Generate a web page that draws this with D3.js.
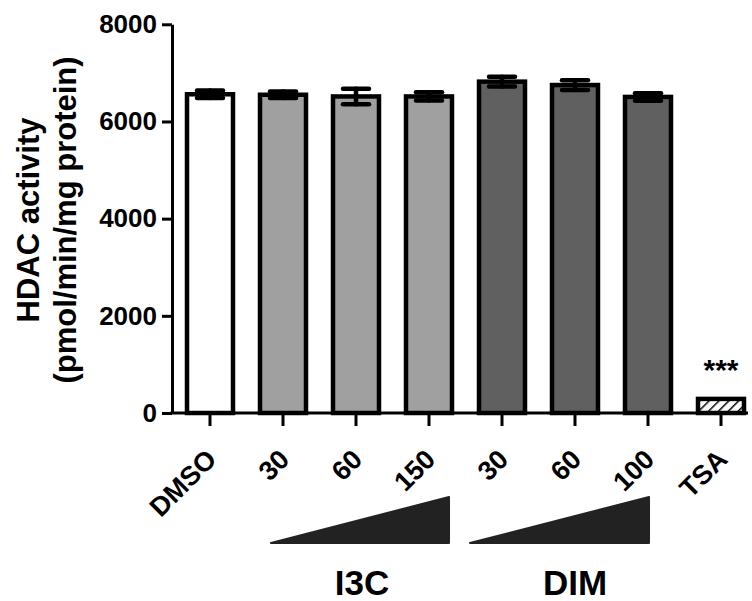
<!DOCTYPE html>
<html><head><meta charset="utf-8">
<script src="https://cdn.jsdelivr.net/npm/d3@7"></script>
<style>body{margin:0;background:#fff}svg{display:block}text{font-family:"Liberation Sans",Arial,sans-serif;font-weight:bold;fill:#000}</style>
</head><body>
<svg id="c" width="752" height="601"></svg>
<script>
const categories = ["DMSO","30","60","150","30","60","100","TSA"];
const groups = ["control","I3C","I3C","I3C","DIM","DIM","DIM","TSA"];
const means = [6560, 6550, 6515, 6515, 6820, 6750, 6505, 290];
const sems  = [75, 65, 160, 85, 100, 100, 77, 0];
const yTicks = [0, 2000, 4000, 6000, 8000];
const fills = {control:"#ffffff", I3C:"#a0a0a0", DIM:"#606060", TSA:"url(#hatch)"};

const svg = d3.select("#c");
const idx = d3.range(categories.length);
const x = d3.scaleBand().domain(idx).range([173.5, 757.5]).paddingInner(0.37).paddingOuter(0.185);
const y = d3.scaleLinear().domain([0, 8000]).range([413, 24.3]);
const xc = i => x(i) + x.bandwidth()/2;

const defs = svg.append("defs");
const pat = defs.append("pattern").attr("id","hatch").attr("patternUnits","userSpaceOnUse")
  .attr("width",7).attr("height",7).attr("patternTransform","rotate(45)");
pat.append("rect").attr("width",7).attr("height",7).attr("fill","#fff");
pat.append("line").attr("x1",0).attr("y1",0).attr("x2",0).attr("y2",7).attr("stroke","#000").attr("stroke-width",3);

// bars
svg.append("g").selectAll("rect").data(idx).join("rect")
  .attr("x", i => x(i)).attr("width", x.bandwidth())
  .attr("y", i => y(means[i])).attr("height", i => y(0) - y(means[i]))
  .attr("fill", i => fills[groups[i]]).attr("stroke","#000").attr("stroke-width",4.5);

// error bars
const eb = svg.append("g").attr("stroke","#000").attr("stroke-width",4.5).attr("stroke-linecap","round");
idx.filter(i => sems[i] > 0).forEach(i => {
  const c = xc(i), hw = 13;
  eb.append("line").attr("x1",c).attr("x2",c).attr("y1",y(means[i]+sems[i])).attr("y2",y(means[i]-sems[i]));
  eb.append("line").attr("x1",c-hw).attr("x2",c+hw).attr("y1",y(means[i]+sems[i])).attr("y2",y(means[i]+sems[i]));
  eb.append("line").attr("x1",c-hw).attr("x2",c+hw).attr("y1",y(means[i]-sems[i])).attr("y2",y(means[i]-sems[i]));
});

// y axis
const ya = svg.append("g").attr("transform","translate(172,0)")
  .call(d3.axisLeft(y).tickValues(yTicks).tickSize(10).tickSizeOuter(0).tickPadding(5).tickFormat(d3.format("d")));
ya.select(".domain").attr("stroke","#000").attr("stroke-width",3);
ya.selectAll(".tick line").attr("stroke","#000").attr("stroke-width",3);
ya.selectAll(".tick text").attr("font-size",26).attr("font-family",'"Liberation Sans",Arial').attr("font-weight","bold").attr("fill","#000");

// x axis
const xa = svg.append("g").attr("transform","translate(0,413)")
  .call(d3.axisBottom(x).tickSize(13).tickSizeOuter(0).tickFormat(i => categories[i]));
xa.select(".domain").attr("d","M170.5,0H748").attr("stroke","#000").attr("stroke-width",3);
xa.selectAll(".tick line").attr("stroke","#000").attr("stroke-width",3);
xa.selectAll(".tick text").attr("font-size",27).attr("font-family",'"Liberation Sans",Arial').attr("font-weight","bold").attr("fill","#000")
  .attr("text-anchor","end").attr("dy",0).attr("y",0)
  .attr("transform","translate(8,48) rotate(-45)");

// significance
svg.append("text").attr("x", xc(7)).attr("y", 380).attr("text-anchor","middle").attr("font-size",30).text("***");

// dose triangles
const triTop = 497, triBot = 543;
const tri = (x0, x1) => `M${x0},${triBot}L${x1},${triTop}L${x1},${triBot}Z`;
svg.append("path").attr("d", tri(xc(1)-12, xc(3)+20)).attr("fill","#222").attr("stroke","#222").attr("stroke-width",2).attr("stroke-linejoin","round");
svg.append("path").attr("d", tri(xc(4)-32, xc(6)+1)).attr("fill","#222").attr("stroke","#222").attr("stroke-width",2).attr("stroke-linejoin","round");
svg.append("text").attr("x", xc(2)+6).attr("y",595).attr("text-anchor","middle").attr("font-size",35).text("I3C");
svg.append("text").attr("x", xc(5)).attr("y",595).attr("text-anchor","middle").attr("font-size",35).text("DIM");

// y title
const yt = svg.append("text").attr("transform","translate(0,220) rotate(-90)").attr("text-anchor","middle").attr("font-size",31);
yt.append("tspan").attr("x",0).attr("y",39).text("HDAC activity");
yt.append("tspan").attr("x",0).attr("y",76).text("(pmol/min/mg protein)");
</script>
</body></html>
